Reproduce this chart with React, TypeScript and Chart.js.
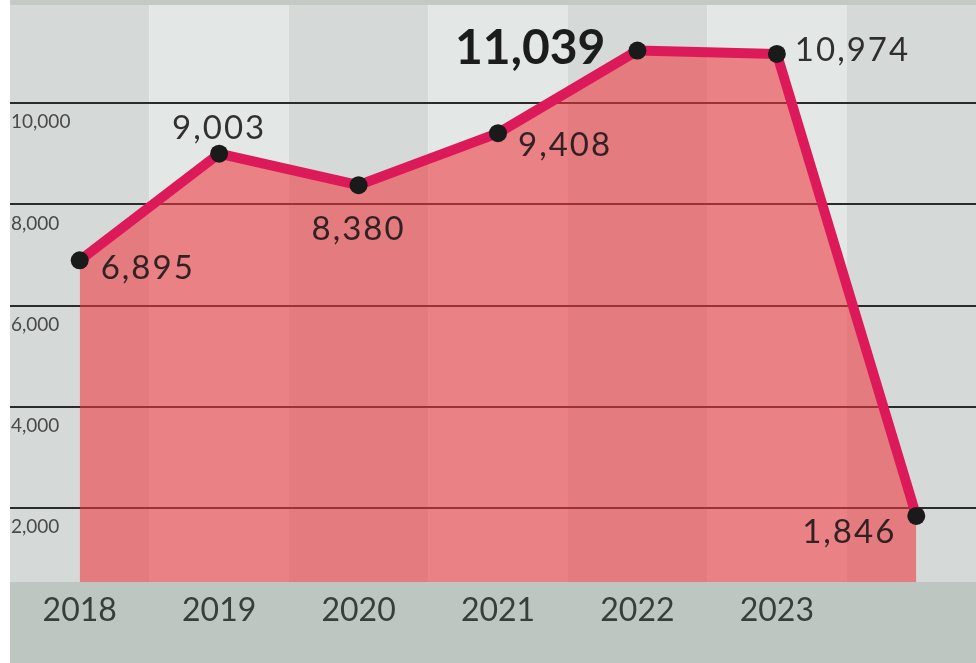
import React, { useEffect, useRef } from 'react';
import { Chart, registerables } from 'chart.js';

Chart.register(...registerables);

const years = ['2018', '2019', '2020', '2021', '2022', '2023', ''];
const values = [6895, 9003, 8380, 9408, 11039, 10974, 1846];
const yTicks = [2000, 4000, 6000, 8000, 10000];

// label placement (style only): alignment and pixel offsets from each point
const labelAlign = ['left', 'center', 'center', 'left', 'right', 'left', 'right'];
const labelDx = [21, 0, 0, 20, -32, 18, -20];
const labelDy = [8, -25, 44, 12, -2, -4, 16];
const labelBig = [false, false, false, false, true, false, false];

const FONT = 'Lato, "Open Sans", sans-serif';

const backgroundPlugin = {
  id: 'bgStripes',
  beforeDraw(chart: any) {
    const { ctx, chartArea, scales, width, height } = chart;
    const x = scales.x;
    ctx.save();
    const step = x.getPixelForValue(1) - x.getPixelForValue(0);
    for (let i = 0; i < years.length; i++) {
      const c = x.getPixelForValue(i);
      ctx.fillStyle = i % 2 === 0 ? '#d5d9d7' : '#e3e8e6';
      ctx.fillRect(c - step / 2, chartArea.top, step, chartArea.bottom - chartArea.top);
    }
    ctx.fillStyle = '#c3cac6';
    ctx.fillRect(chartArea.left, 0, width - chartArea.left, chartArea.top);
    ctx.fillStyle = '#bdc6c0';
    ctx.fillRect(chartArea.left, chartArea.bottom, width - chartArea.left, height - chartArea.bottom);
    ctx.restore();
  },
};

const labelPlugin = {
  id: 'valueLabels',
  afterDatasetsDraw(chart: any) {
    const { ctx } = chart;
    const meta = chart.getDatasetMeta(0);
    ctx.save();
    meta.data.forEach((pt: any, i: number) => {
      const txt = values[i].toLocaleString('en-US');
      if (labelBig[i]) {
        ctx.font = `bold 48px ${FONT}`;
        ctx.fillStyle = '#1c1c1c';
        (ctx as any).letterSpacing = '0px';
      } else {
        ctx.font = `33px ${FONT}`;
        ctx.fillStyle = 'rgba(25,20,22,0.88)';
        (ctx as any).letterSpacing = '2px';
      }
      ctx.textAlign = labelAlign[i] as CanvasTextAlign;
      ctx.textBaseline = 'middle';
      ctx.fillText(txt, pt.x + labelDx[i], pt.y + labelDy[i]);
    });
    ctx.restore();
  },
};

export default function App() {
  const ref = useRef<HTMLCanvasElement | null>(null);

  useEffect(() => {
    document.body.style.margin = '0';
    if (!ref.current) return;
    const chart = new Chart(ref.current, {
      type: 'line',
      data: {
        labels: years,
        datasets: [
          {
            data: values,
            borderColor: '#dc1a5a',
            borderWidth: 10,
            borderJoinStyle: 'round',
            backgroundColor: 'rgba(240,55,62,0.58)',
            fill: 'start',
            tension: 0,
            pointRadius: 9,
            pointHoverRadius: 9,
            pointBackgroundColor: '#1a1a1a',
            pointBorderWidth: 0,
            clip: false as any,
          },
        ],
      },
      options: {
        animation: false,
        responsive: false,
        maintainAspectRatio: false,
        layout: { autoPadding: false, padding: { left: 10, top: 5, right: 0, bottom: 0 } },
        plugins: { legend: { display: false }, tooltip: { enabled: false } },
        scales: {
          x: {
            type: 'category',
            offset: true,
            grid: { display: false, drawTicks: false },
            border: { display: false },
            ticks: {
              color: '#36403b',
              font: { family: FONT, size: 32 },
              padding: 9,
              maxRotation: 0,
              autoSkip: false,
            },
            afterFit(scale: any) {
              scale.height = 81;
              scale.paddingLeft = 0;
              scale.paddingRight = 0;
            },
          },
          y: {
            min: 540,
            max: 11940,
            position: 'left',
            border: { display: false },
            grid: { color: '#2b2b2b', lineWidth: 2, drawTicks: false },
            afterBuildTicks(axis: any) {
              axis.ticks = yTicks.map((v) => ({ value: v }));
            },
            afterFit(scale: any) {
              scale.width = 0;
              scale.paddingTop = 0;
              scale.paddingBottom = 0;
            },
            ticks: {
              mirror: true,
              padding: 1,
              labelOffset: 19,
              color: '#4a4a4a',
              font: { family: FONT, size: 19 },
              callback: (v: any) => Number(v).toLocaleString('en-US'),
            },
          },
        },
      },
      plugins: [backgroundPlugin, labelPlugin],
    });
    return () => chart.destroy();
  }, []);

  return (
    <div style={{ width: 976, height: 663, overflow: 'hidden', background: '#fff', position: 'relative' }}>
      <canvas ref={ref} width={986} height={663} style={{ width: 986, height: 663, display: 'block' }} />
    </div>
  );
}
